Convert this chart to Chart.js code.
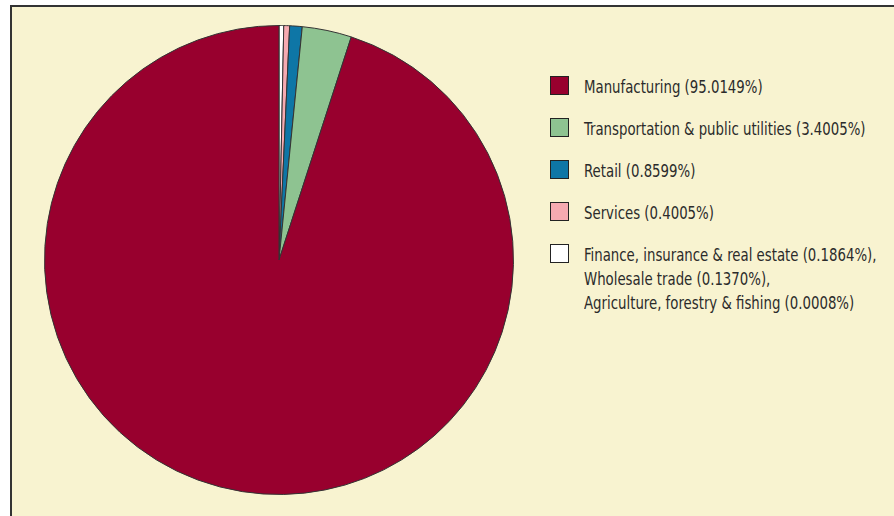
<!DOCTYPE html>
<html>
<head>
<meta charset="utf-8">
<script src="https://cdn.jsdelivr.net/npm/chart.js@4/dist/chart.umd.min.js"></script>
<style>
  html, body { margin: 0; padding: 0; background: #fff; }
  body { width: 894px; height: 516px; overflow: hidden; position: relative; }
  #frame {
    position: absolute; left: 10px; top: 5px; width: 900px; height: 520px;
    background: #f8f3d0; border-left: 2px solid #333; border-top: 2px solid #333;
  }
  #pieBox { position: absolute; left: 39px; top: 20px; width: 480px; height: 480px; }
  #legend {
    position: absolute; left: 550px; top: 76px;
    font-family: "DejaVu Sans Condensed", "Liberation Sans Narrow", sans-serif;
    font-size: 17px; color: #2b2b2b;
  }
  .item { display: flex; align-items: flex-start; height: 42px; }
  .box { width: 17px; height: 17px; border: 1px solid #222; margin-right: 15px; flex: none; }
  .txt { line-height: 24px; margin-top: -1px; white-space: nowrap;
         transform: scaleX(0.87); transform-origin: left top; }
</style>
</head>
<body>
<div id="frame"></div>
<div id="pieBox"><canvas id="chart"></canvas></div>
<div id="legend"></div>
<script>
// slices in drawing order, clockwise from 12 o'clock
const sectors = [
  "Finance, insurance & real estate (0.1864%),\nWholesale trade (0.1370%),\nAgriculture, forestry & fishing (0.0008%)",
  "Services (0.4005%)",
  "Retail (0.8599%)",
  "Transportation & public utilities (3.4005%)",
  "Manufacturing (95.0149%)"
];
const shares = [0.3242, 0.4005, 0.8599, 3.4005, 95.0149];
const colors = ["#ffffff", "#f6aab1", "#0e76a6", "#8ec391", "#98002e"];

// legend lists the slices biggest first
const legend = document.getElementById("legend");
for (let i = sectors.length - 1; i >= 0; i--) {
  const row = document.createElement("div");
  row.className = "item";
  row.innerHTML = `<div class="box" style="background:${colors[i]}"></div>` +
    `<div class="txt">${sectors[i].split("\n").join("<br>")}</div>`;
  legend.appendChild(row);
}

new Chart(document.getElementById("chart"), {
  type: "pie",
  data: {
    labels: sectors,
    datasets: [{
      data: shares,
      backgroundColor: colors,
      borderColor: "#333",
      borderWidth: 1
    }]
  },
  options: {
    responsive: true,
    maintainAspectRatio: false,
    animation: false,
    layout: { padding: 5 },
    plugins: { legend: { display: false }, tooltip: { enabled: false } }
  }
});
</script>
</body>
</html>
